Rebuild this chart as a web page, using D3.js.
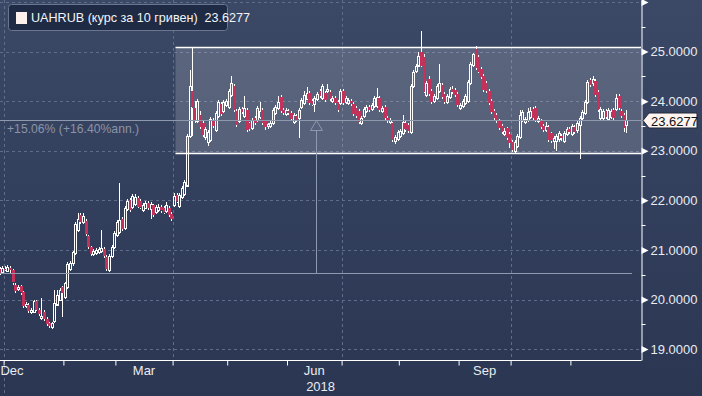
<!DOCTYPE html>
<html>
<head>
<meta charset="utf-8">
<script src="https://cdn.jsdelivr.net/npm/d3@7"></script>
<style>
  html, body { margin: 0; padding: 0; background: #2e3a56; }
  svg { display: block; font-family: "Liberation Sans", Arial, sans-serif; }
</style>
</head>
<body>
<svg id="chart" width="702" height="396"></svg>
<script>
// UAHRUB daily candles, first trading day 2017-12-27, weekdays only
var startDate = "2017-12-27";

var opens = [
  20.58,20.62,20.56,20.62,20.58,20.64,20.59,20.30,20.20,20.27,
  20.15,19.86,19.88,19.74,19.74,19.96,19.78,19.62,19.75,19.60,
  19.52,19.44,19.55,19.90,20.00,20.25,20.05,20.25,20.62,20.72,
  20.94,21.40,21.70,21.56,21.58,21.28,21.06,20.92,20.93,20.95,
  20.97,21.02,20.86,20.60,20.88,21.06,21.30,21.36,21.62,21.45,
  21.82,22.00,21.86,21.92,22.05,21.98,21.80,21.85,21.95,21.82,
  21.90,21.76,21.80,21.86,21.84,21.78,21.84,21.72,21.90,22.10,
  21.88,22.05,22.12,22.30,23.30,24.20,23.87,23.60,23.72,23.56,
  23.28,23.18,23.22,23.62,23.42,23.70,23.95,23.80,23.92,23.88,
  24.12,24.30,23.80,23.60,23.84,23.70,23.82,23.55,23.45,23.66,
  23.62,23.68,23.82,23.60,23.48,23.50,23.56,23.76,23.85,24.08,
  23.82,23.74,23.80,23.76,23.58,23.70,23.66,23.88,23.95,24.05,
  24.16,24.00,23.93,24.04,24.20,24.05,24.16,24.20,24.18,24.00,
  24.06,23.98,23.96,24.20,23.98,23.95,24.00,23.95,23.86,23.80,
  23.56,23.70,23.80,23.88,23.84,23.90,23.90,24.06,23.80,23.88,
  23.66,23.58,23.55,23.20,23.24,23.30,23.36,23.55,23.52,23.38,
  24.30,24.60,24.72,25.00,24.90,24.12,24.45,24.20,24.00,24.05,
  24.20,24.32,24.15,23.98,24.08,24.24,24.22,24.15,23.86,23.90,
  23.95,24.00,24.36,24.72,25.05,24.90,24.64,24.50,24.36,24.20,
  24.00,23.80,23.72,23.60,23.50,23.34,23.45,23.34,23.18,23.00,
  23.10,23.28,23.62,23.58,23.62,23.68,23.84,23.86,23.60,23.60,
  23.50,23.42,23.48,23.35,23.20,23.20,23.22,23.30,23.20,23.34,
  23.44,23.34,23.48,23.40,23.52,23.66,23.76,23.98,24.42,24.35,
  24.40,24.18,23.66,23.66,23.80,23.64,23.68,23.82,23.84,24.10,
  23.80,23.72,23.52
];

var highs = [
  20.66,20.66,20.68,20.68,20.70,20.68,20.62,20.33,20.30,20.30,
  20.18,19.94,19.92,19.82,20.00,19.99,19.82,20.03,19.78,19.64,
  19.55,19.55,20.20,20.20,20.24,20.28,20.36,20.76,20.78,20.98,
  21.56,21.75,21.74,21.75,21.62,21.30,21.08,21.02,21.04,21.06,
  21.40,21.05,20.90,20.92,21.10,21.38,21.60,22.35,21.66,21.88,
  22.02,22.04,22.12,22.12,22.08,22.02,21.94,21.98,21.98,21.96,
  21.93,21.90,21.92,21.90,21.88,21.97,21.88,21.76,22.15,22.14,
  22.14,22.28,22.40,23.34,24.62,25.10,24.00,24.05,23.80,23.60,
  23.48,23.42,23.68,23.66,23.80,24.02,23.99,24.02,24.04,24.24,
  24.50,24.34,23.84,23.88,23.88,24.10,23.86,23.58,23.66,23.70,
  23.90,23.98,23.86,23.63,23.56,23.60,23.86,23.92,24.10,24.12,
  23.86,23.86,23.84,23.80,23.76,23.74,23.86,24.06,24.20,24.28,
  24.20,24.04,24.10,24.18,24.24,24.35,24.20,24.35,24.22,24.10,
  24.10,24.02,24.24,24.24,24.10,24.06,24.04,23.98,23.90,23.84,
  23.70,23.88,23.92,23.92,23.97,24.10,24.27,24.10,23.90,23.92,
  23.70,23.66,23.58,23.32,23.42,23.44,23.72,23.60,23.56,24.34,
  24.62,24.74,25.00,25.42,24.96,24.40,24.50,24.24,24.14,24.34,
  24.75,24.36,24.18,24.14,24.28,24.30,24.26,24.18,23.96,24.04,
  24.14,24.42,24.78,24.98,25.12,24.94,24.68,24.54,24.40,24.24,
  24.04,23.84,23.76,23.64,23.54,23.46,23.48,23.38,23.22,23.22,
  23.34,23.82,23.82,23.68,23.86,23.88,23.88,23.90,23.70,23.64,
  23.54,23.58,23.52,23.38,23.30,23.34,23.40,23.34,23.40,23.48,
  23.48,23.54,23.52,23.60,23.70,23.82,24.02,24.42,24.47,24.50,
  24.44,24.22,23.88,23.84,23.84,23.86,23.84,23.86,24.15,24.14,
  23.84,23.76,23.82
];

var lows = [
  20.55,20.50,20.52,20.58,20.55,20.52,20.30,20.14,20.17,20.10,
  19.82,19.82,19.72,19.70,19.72,19.76,19.66,19.58,19.56,19.47,
  19.43,19.40,19.52,19.86,19.96,19.64,20.02,20.22,20.58,20.68,
  20.90,21.36,21.52,21.52,21.28,21.02,20.88,20.88,20.90,20.92,
  20.94,20.84,20.58,20.56,20.84,21.02,21.26,21.32,21.38,21.40,
  21.78,21.76,21.82,21.88,21.84,21.82,21.76,21.82,21.80,21.62,
  21.66,21.72,21.76,21.75,21.72,21.74,21.66,21.58,21.86,21.94,
  21.85,22.02,22.08,22.26,23.26,23.30,23.56,23.55,23.44,23.28,
  23.22,23.10,23.18,23.46,23.38,23.66,23.70,23.76,23.88,23.84,
  24.08,23.78,23.48,23.56,23.74,23.66,23.38,23.40,23.42,23.52,
  23.58,23.64,23.52,23.42,23.44,23.46,23.52,23.72,23.82,23.76,
  23.72,23.70,23.72,23.60,23.54,23.58,23.25,23.84,23.92,24.02,
  23.92,23.90,23.78,24.00,24.06,24.02,23.98,24.16,24.00,23.96,
  23.92,23.78,23.92,23.92,23.94,23.92,23.91,23.70,23.66,23.54,
  23.52,23.66,23.76,23.78,23.80,23.86,23.86,23.78,23.76,23.62,
  23.56,23.54,23.18,23.14,23.20,23.26,23.32,23.38,23.36,23.34,
  24.26,24.56,24.68,24.68,24.16,24.08,24.10,23.94,23.96,24.02,
  24.16,24.04,23.94,23.94,24.04,24.14,24.08,23.88,23.82,23.86,
  23.92,23.96,24.32,24.68,24.62,24.56,24.44,24.18,24.16,23.92,
  23.74,23.62,23.56,23.42,23.34,23.30,23.22,23.06,22.97,22.96,
  23.06,23.24,23.58,23.54,23.58,23.64,23.62,23.58,23.56,23.43,
  23.38,23.38,23.18,23.16,23.04,23.00,23.18,23.20,23.16,23.30,
  23.34,23.30,23.34,23.36,22.84,23.62,23.72,23.94,24.28,24.30,
  24.08,23.78,23.62,23.62,23.64,23.60,23.64,23.62,23.80,23.82,
  23.66,23.38,23.36
];

var closes = [
  20.62,20.54,20.64,20.60,20.66,20.59,20.34,20.18,20.25,20.14,
  19.86,19.90,19.76,19.78,19.96,19.78,19.70,19.66,19.60,19.50,
  19.46,19.52,19.92,20.10,20.20,20.13,20.33,20.72,20.74,20.95,
  21.52,21.62,21.56,21.68,21.32,21.06,20.92,20.98,21.00,21.02,
  21.04,20.88,20.62,20.88,21.06,21.34,21.56,21.60,21.42,21.85,
  21.98,21.80,22.08,22.06,21.87,21.85,21.90,21.95,21.84,21.93,
  21.70,21.86,21.87,21.79,21.75,21.90,21.70,21.62,22.08,21.97,
  22.10,22.24,22.36,23.30,24.30,23.87,23.60,24.00,23.48,23.32,
  23.44,23.38,23.64,23.50,23.76,23.98,23.74,23.98,24.00,24.20,
  24.36,23.82,23.52,23.84,23.78,23.86,23.42,23.44,23.62,23.56,
  23.86,23.80,23.55,23.48,23.53,23.56,23.82,23.88,23.98,23.80,
  23.76,23.82,23.76,23.64,23.72,23.62,23.82,24.02,24.12,24.17,
  23.96,23.93,24.06,24.15,24.10,24.30,24.02,24.25,24.04,24.06,
  23.96,23.82,24.20,23.96,24.06,24.02,23.95,23.74,23.70,23.58,
  23.66,23.84,23.88,23.82,23.93,24.06,24.08,23.82,23.86,23.66,
  23.60,23.62,23.22,23.28,23.38,23.40,23.58,23.42,23.40,24.30,
  24.58,24.70,24.92,24.72,24.20,24.36,24.15,23.98,24.10,24.30,
  24.36,24.08,23.98,24.10,24.25,24.18,24.12,23.92,23.92,24.00,
  24.10,24.38,24.75,24.95,24.66,24.60,24.48,24.22,24.20,23.96,
  23.78,23.66,23.60,23.46,23.38,23.40,23.26,23.15,23.02,23.18,
  23.30,23.72,23.78,23.64,23.78,23.80,23.66,23.62,23.66,23.47,
  23.42,23.50,23.22,23.20,23.26,23.30,23.35,23.25,23.36,23.44,
  23.38,23.50,23.38,23.55,23.66,23.78,23.98,24.38,24.32,24.44,
  24.12,23.82,23.84,23.80,23.68,23.82,23.80,23.66,24.06,23.86,
  23.70,23.46,23.6277
];

var yTicks = [19, 20, 21, 22, 23, 24, 25, 26];
var monthLabels = ["Dec", "Mar", "Jun", "Sep"];
var yearLabel = "2018";
var seriesName = "UAHRUB (курс за 10 гривен)";
var changeLabel = "+15.06% (+16.40%ann.)";
var boxStart = "2018-04-03";
var boxRange = [22.96, 25.09];
var measureFrom = "2017-12-28";

// ---- layout ----
var W = 702, H = 396, plotR = 641, plotB = 360, step = 2.6, x0 = -4.2;
var svg = d3.select("#chart");
var parse = d3.timeParse("%Y-%m-%d");
var fmtDay = d3.timeFormat("%Y-%m-%d");

var dates = [];
var day = parse(startDate);
while (dates.length < closes.length) {
  if (day.getDay() % 6 !== 0) dates.push(day);
  day = d3.timeDay.offset(day, 1);
}
var n = dates.length;
var data = dates.map(function(d, i) {
  return {date: d, o: opens[i], h: highs[i], l: lows[i], c: closes[i]};
});
var indexOf = function(s) { return dates.findIndex(function(d) { return fmtDay(d) === s; }); };

var x = d3.scaleLinear().domain([0, n]).range([x0, x0 + n * step]);
var y = d3.scaleLinear().domain([18.78, 26.04]).range([plotB, 0]);
var cx = function(i) { return Math.round(x(i + 0.5)) + 0.5; };
var py = function(v) { return Math.round(y(v)) + 0.5; };

// background
var defs = svg.append("defs");
var grad = defs.append("linearGradient").attr("id", "bg")
  .attr("x1", 0).attr("y1", 0).attr("x2", 0).attr("y2", 1);
grad.append("stop").attr("offset", 0).attr("stop-color", "#3b4866");
grad.append("stop").attr("offset", 1).attr("stop-color", "#2a3652");
svg.append("rect").attr("width", W).attr("height", H).attr("fill", "url(#bg)");
defs.append("clipPath").attr("id", "plot")
  .append("rect").attr("width", plotR).attr("height", plotB);

// month boundaries (first trading day of each month)
var monthStarts = d3.range(n).filter(function(i) {
  return i === 0 || dates[i].getMonth() !== dates[i - 1].getMonth();
}).slice(1);
var quarterStarts = monthStarts.filter(function(i) { return dates[i].getMonth() % 3 === 0; });

var grid = svg.append("g").attr("stroke", "#5f6d8a").attr("stroke-dasharray", "3,3")
  .attr("shape-rendering", "crispEdges");
grid.selectAll("line.h").data(yTicks).join("line").attr("class", "h")
  .attr("x1", 0).attr("x2", plotR).attr("y1", py).attr("y2", py);
grid.selectAll("line.v").data(quarterStarts).join("line").attr("class", "v")
  .attr("x1", function(i) { return Math.round(x(i)) + 0.5; })
  .attr("x2", function(i) { return Math.round(x(i)) + 0.5; })
  .attr("y1", 0)
  .attr("y2", function(i) { return dates[i].getMonth() === 0 ? H : plotB; });

// highlighted range box
var bx = Math.round(x(indexOf(boxStart))) + 0.5;
var plot = svg.append("g").attr("clip-path", "url(#plot)");
plot.append("rect").attr("x", bx).attr("y", py(boxRange[1]))
  .attr("width", plotR - bx).attr("height", py(boxRange[0]) - py(boxRange[1]))
  .attr("fill", "#ffffff").attr("fill-opacity", 0.17);
plot.selectAll("line.box").data(boxRange).join("line").attr("class", "box")
  .attr("x1", bx).attr("x2", plotR).attr("y1", py).attr("y2", py)
  .attr("stroke", "#ffffff").attr("stroke-width", 1.3);

// candles
var candle = plot.append("g").attr("shape-rendering", "crispEdges")
  .selectAll("g").data(data).join("g");
candle.append("line")
  .attr("x1", function(d, i) { return cx(i); }).attr("x2", function(d, i) { return cx(i); })
  .attr("y1", function(d) { return y(d.h); })
  .attr("y2", function(d) { return y(Math.max(d.o, d.c)); })
  .attr("stroke", "#ffffff");
candle.append("line")
  .attr("x1", function(d, i) { return cx(i); }).attr("x2", function(d, i) { return cx(i); })
  .attr("y1", function(d) { return y(Math.min(d.o, d.c)); })
  .attr("y2", function(d) { return y(d.l); })
  .attr("stroke", "#ffffff");
candle.append("rect")
  .attr("x", function(d, i) { return d.c >= d.o ? cx(i) - 1 : cx(i) - 1.5; })
  .attr("width", function(d) { return d.c >= d.o ? 2 : 3; })
  .attr("y", function(d) { return Math.round(y(Math.max(d.o, d.c))) + (d.c >= d.o ? 0.5 : 0); })
  .attr("height", function(d) { return Math.max(1, Math.round(y(Math.min(d.o, d.c)) - y(Math.max(d.o, d.c)))); })
  .attr("fill", function(d) { return d.c >= d.o ? "none" : "#c2325a"; })
  .attr("stroke", function(d) { return d.c >= d.o ? "#ffffff" : "none"; });

// change measurement
var last = data[n - 1], iFrom = indexOf(measureFrom), first = data[iFrom];
var mx1 = cx(iFrom), mx2 = Math.round(x(n)) + 4, mid = Math.round((mx1 + mx2) / 2) + 0.5;
var meas = svg.append("g").attr("stroke", "#8f99ad").attr("fill", "none").attr("clip-path", "url(#plot)");
meas.append("line").attr("x1", 0).attr("x2", plotR).attr("y1", py(last.c)).attr("y2", py(last.c));
meas.append("line").attr("x1", 0).attr("x2", mx2).attr("y1", py(first.c)).attr("y2", py(first.c));
meas.append("line").attr("x1", mid).attr("x2", mid).attr("y1", py(last.c) + 10).attr("y2", py(first.c));
meas.append("path").attr("d", "M" + mid + "," + py(last.c) + "l6,10h-12z");
svg.append("text").attr("x", 7).attr("y", py(last.c) + 12)
  .attr("font-size", 12.2).attr("fill", "#8a94a9").text(changeLabel);

// right axis
var yAxis = svg.append("g").attr("transform", "translate(" + (plotR + 0.5) + ",0)")
  .call(d3.axisRight(y).tickValues(yTicks).tickSize(0).tickSizeOuter(0)
    .tickFormat(function(v) { return v < 26 ? d3.format(".4f")(v) : ""; }));
yAxis.select(".domain").attr("stroke", "#ffffff");
yAxis.selectAll("text").attr("x", 9).attr("fill", "#e9ecf2")
  .attr("font-family", "Liberation Sans, Arial, sans-serif").attr("font-size", 13);
yAxis.selectAll(".tick").append("path").attr("d", "M0,-3.5L7,0L0,3.5Z").attr("fill", "#ffffff");
yAxis.selectAll("line.minor").data(yTicks.slice(0, -1)).join("line").attr("class", "minor")
  .attr("x1", 0).attr("x2", 4).attr("y1", function(v) { return py(v + 0.5); })
  .attr("y2", function(v) { return py(v + 0.5); }).attr("stroke", "#ffffff");

// bottom axis
var xAxis = svg.append("g").attr("transform", "translate(0," + (plotB + 0.5) + ")")
  .call(d3.axisBottom(x).tickValues(monthStarts).tickSize(5).tickSizeOuter(0).tickFormat(""));
xAxis.select(".domain").attr("d", "M0,0H" + (plotR + 0.5)).attr("stroke", "#ffffff");
xAxis.selectAll(".tick line").attr("stroke", "#ffffff");

var fmtMonth = d3.timeFormat("%b");
var monthCentres = d3.groups(d3.range(n), function(i) { return fmtDay(dates[i]).slice(0, 7); })
  .map(function(g) {
    var a = g[1][0], b = g[1][g[1].length - 1] + 1;
    return {name: fmtMonth(dates[a]), pos: Math.max(12, (x(a) + x(b)) / 2)};
  })
  .filter(function(m) { return monthLabels.indexOf(m.name) >= 0; });
svg.append("g").attr("font-size", 13).attr("fill", "#e9ecf2").attr("text-anchor", "middle")
  .selectAll("text").data(monthCentres).join("text")
  .attr("x", function(m) { return m.pos; }).attr("y", 375).text(function(m) { return m.name; });
var yr = d3.range(n).filter(function(i) { return dates[i].getFullYear() === +yearLabel; });
svg.append("text").attr("x", (x(yr[0]) + x(yr[yr.length - 1] + 1)) / 2 + 5).attr("y", 391)
  .attr("font-size", 13).attr("fill", "#e9ecf2").attr("text-anchor", "middle").text(yearLabel);

// last price tag
var ly = py(last.c);
svg.append("path")
  .attr("d", "M643," + ly + "L649," + (ly - 7.5) + "H697V" + (ly + 7.5) + "H649Z")
  .attr("fill", "#fff4ef").attr("stroke", "#20283a");
svg.append("text").attr("x", 651).attr("y", ly + 5).attr("font-size", 13).attr("fill", "#111")
  .text(d3.format(".4f")(last.c));

// legend
var leg = svg.append("g");
leg.append("rect").attr("x", 8.5).attr("y", 4.5).attr("width", 219).attr("height", 26).attr("rx", 3)
  .attr("fill", "#1f2b44").attr("stroke", "#6b7691");
leg.append("rect").attr("x", 16).attr("y", 12).attr("width", 11).attr("height", 12).attr("fill", "#fdf1ed");
leg.append("text").attr("x", 31).attr("y", 22).attr("font-size", 12.6).attr("fill", "#f2f4f8")
  .style("white-space", "pre").text(seriesName + "  " + d3.format(".4f")(last.c));
</script>
</body>
</html>
